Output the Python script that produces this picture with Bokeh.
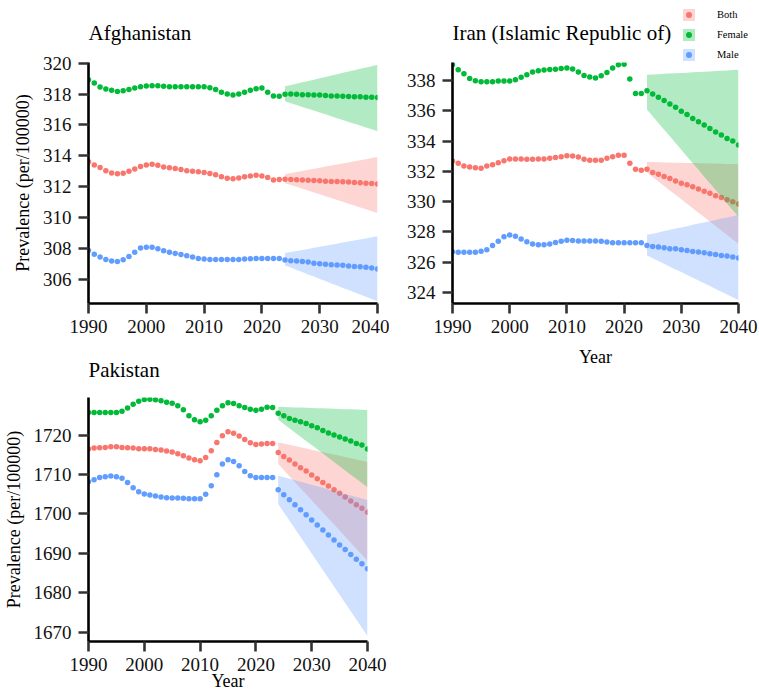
from bokeh.plotting import figure
from bokeh.models import Range1d, FixedTicker, Legend, LegendItem, Label
from bokeh.layouts import row, column
from bokeh.embed import file_html
from bokeh.resources import INLINE

# ---------------- data ----------------
YEARS = list(range(1990, 2041))
FYEARS = list(range(2024, 2041))
XTICKS = [1990, 2000, 2010, 2020, 2030, 2040]
GROUPS = ["Both", "Female", "Male"]
COLORS = {"Both": "#F8766D", "Female": "#00BA38", "Male": "#619CFF"}

AF_both = [313.63, 313.42, 313.25, 313.05, 312.90, 312.84, 312.88, 313.01, 313.16, 313.31,
           313.42, 313.46, 313.40, 313.29, 313.23, 313.18, 313.12, 313.05, 313.01, 312.97,
           312.93, 312.86, 312.78, 312.65, 312.56, 312.52, 312.58, 312.65, 312.71, 312.75,
           312.71, 312.60, 312.45, 312.48, 312.50, 312.48, 312.46, 312.44, 312.43, 312.41,
           312.39, 312.37, 312.35, 312.35, 312.33, 312.31, 312.29, 312.26, 312.24, 312.22, 312.18]
AF_female = [318.93, 318.71, 318.46, 318.33, 318.24, 318.16, 318.22, 318.29, 318.39, 318.48,
             318.52, 318.54, 318.54, 318.50, 318.48, 318.48, 318.48, 318.48, 318.48, 318.48,
             318.48, 318.41, 318.29, 318.11, 318.00, 317.94, 318.00, 318.11, 318.24, 318.35,
             318.39, 318.11, 317.88, 317.86, 317.98, 318.00, 317.98, 317.96, 317.96, 317.94,
             317.94, 317.90, 317.88, 317.88, 317.86, 317.84, 317.82, 317.82, 317.80, 317.80, 317.77]
AF_male = [307.89, 307.65, 307.46, 307.31, 307.20, 307.18, 307.29, 307.50, 307.78, 308.04,
           308.10, 308.10, 308.00, 307.87, 307.78, 307.70, 307.63, 307.55, 307.46, 307.37,
           307.33, 307.31, 307.31, 307.31, 307.31, 307.31, 307.31, 307.33, 307.35, 307.37,
           307.37, 307.37, 307.37, 307.37, 307.27, 307.22, 307.20, 307.18, 307.14, 307.07,
           307.03, 307.00, 306.97, 306.95, 306.93, 306.88, 306.86, 306.84, 306.80, 306.76, 306.69]
AF_both_lo = [312.24, 312.12, 312.00, 311.88, 311.76, 311.64, 311.52, 311.40, 311.28,
              311.15, 311.03, 310.91, 310.79, 310.67, 310.55, 310.43, 310.31]
AF_both_hi = [312.82, 312.89, 312.96, 313.03, 313.10, 313.17, 313.24, 313.31, 313.38,
              313.44, 313.51, 313.58, 313.65, 313.72, 313.79, 313.86, 313.93]
AF_female_lo = [317.53, 317.41, 317.29, 317.17, 317.05, 316.93, 316.81, 316.69, 316.57,
                316.44, 316.32, 316.20, 316.08, 315.96, 315.84, 315.72, 315.60]
AF_female_hi = [318.50, 318.59, 318.67, 318.76, 318.85, 318.93, 319.02, 319.11, 319.20,
                319.28, 319.37, 319.46, 319.54, 319.63, 319.72, 319.80, 319.89]
AF_male_lo = [306.92, 306.78, 306.63, 306.49, 306.34, 306.20, 306.05, 305.91, 305.76,
              305.62, 305.47, 305.33, 305.18, 305.04, 304.89, 304.75, 304.60]
AF_male_hi = [307.72, 307.79, 307.86, 307.92, 307.99, 308.06, 308.13, 308.20, 308.26,
              308.33, 308.40, 308.47, 308.54, 308.60, 308.67, 308.74, 308.81]

IR_both = [332.68, 332.53, 332.35, 332.29, 332.24, 332.20, 332.35, 332.44, 332.57, 332.70,
           332.81, 332.81, 332.81, 332.79, 332.79, 332.81, 332.81, 332.86, 332.92, 332.97,
           333.03, 333.01, 332.95, 332.80, 332.73, 332.73, 332.73, 332.86, 332.97, 333.06,
           333.06, 332.53, 332.14, 332.07, 332.14, 331.92, 331.81, 331.66, 331.53, 331.37,
           331.22, 331.11, 330.98, 330.83, 330.68, 330.55, 330.39, 330.28, 330.13, 329.99, 329.84]
IR_female = [339.03, 338.70, 338.44, 338.13, 337.98, 337.91, 337.91, 337.91, 337.96, 337.96,
             337.96, 338.04, 338.20, 338.37, 338.55, 338.63, 338.68, 338.72, 338.74, 338.79,
             338.81, 338.75, 338.55, 338.33, 338.22, 338.16, 338.31, 338.52, 338.81, 339.03,
             339.07, 338.09, 337.13, 337.13, 337.32, 337.11, 336.88, 336.67, 336.45, 336.23,
             335.97, 335.75, 335.49, 335.27, 335.05, 334.83, 334.59, 334.39, 334.17, 334.00, 333.73]
IR_male = [326.70, 326.66, 326.66, 326.66, 326.66, 326.72, 326.83, 327.10, 327.38, 327.69,
           327.80, 327.71, 327.53, 327.36, 327.20, 327.16, 327.16, 327.20, 327.31, 327.38,
           327.45, 327.44, 327.40, 327.40, 327.40, 327.40, 327.38, 327.33, 327.28, 327.28,
           327.28, 327.28, 327.28, 327.28, 327.11, 327.04, 327.00, 326.96, 326.89, 326.89,
           326.83, 326.78, 326.71, 326.67, 326.63, 326.56, 326.52, 326.45, 326.41, 326.35, 326.28]
IR_both_lo = [331.92, 331.63, 331.33, 331.04, 330.74, 330.45, 330.16, 329.86, 329.57,
              329.27, 328.98, 328.69, 328.39, 328.10, 327.80, 327.51, 327.22]
IR_both_hi = [332.62, 332.61, 332.60, 332.59, 332.58, 332.57, 332.56, 332.55, 332.55,
              332.54, 332.53, 332.52, 332.51, 332.50, 332.49, 332.48, 332.47]
IR_female_lo = [336.08, 335.64, 335.19, 334.75, 334.31, 333.87, 333.42, 332.98, 332.54,
                332.10, 331.65, 331.21, 330.77, 330.33, 329.88, 329.44, 329.00]
IR_female_hi = [338.37, 338.39, 338.41, 338.43, 338.45, 338.47, 338.49, 338.51, 338.53,
                338.55, 338.57, 338.59, 338.62, 338.64, 338.66, 338.68, 338.70]
IR_male_lo = [326.45, 326.27, 326.08, 325.90, 325.71, 325.53, 325.35, 325.16, 324.98,
              324.79, 324.61, 324.43, 324.24, 324.06, 323.87, 323.69, 323.50]
IR_male_hi = [327.81, 327.89, 327.97, 328.06, 328.14, 328.22, 328.30, 328.38, 328.47,
              328.55, 328.63, 328.71, 328.79, 328.88, 328.96, 329.04, 329.12]

PK_both = [1716.45, 1716.70, 1716.79, 1716.87, 1717.04, 1717.04, 1716.87, 1716.79, 1716.70, 1716.54,
           1716.54, 1716.54, 1716.37, 1716.20, 1715.95, 1715.70, 1715.27, 1714.76, 1714.17, 1713.75,
           1713.50, 1714.34, 1716.03, 1718.14, 1719.83, 1720.84, 1720.50, 1719.75, 1718.90, 1718.06,
           1717.64, 1717.72, 1717.89, 1717.89, 1715.60, 1714.60, 1713.67, 1712.65, 1711.72, 1710.88,
           1709.86, 1708.94, 1708.00, 1707.08, 1706.15, 1705.22, 1704.29, 1703.27, 1702.35, 1701.42, 1700.41]
PK_female = [1725.74, 1725.74, 1725.74, 1725.74, 1725.74, 1725.74, 1726.08, 1726.90, 1727.85, 1728.60,
             1729.04, 1729.12, 1728.95, 1728.70, 1728.36, 1728.10, 1727.43, 1726.42, 1724.90, 1723.90,
             1723.38, 1723.80, 1724.90, 1726.33, 1727.43, 1728.19, 1728.02, 1727.43, 1727.00, 1726.59,
             1726.33, 1726.59, 1727.09, 1727.00, 1725.57, 1724.90, 1724.22, 1723.80, 1723.38, 1722.96,
             1722.36, 1721.86, 1721.18, 1720.51, 1720.00, 1719.49, 1718.99, 1718.48, 1717.89, 1717.47, 1716.45]
PK_male = [1708.18, 1708.68, 1709.27, 1709.44, 1709.60, 1709.44, 1709.02, 1708.00, 1706.66, 1705.64,
           1705.05, 1704.80, 1704.54, 1704.29, 1704.12, 1704.04, 1704.04, 1703.95, 1703.86, 1703.86,
           1703.86, 1704.97, 1707.17, 1709.95, 1712.65, 1713.75, 1713.33, 1712.23, 1710.79, 1709.70,
           1709.27, 1709.27, 1709.27, 1709.27, 1706.15, 1704.88, 1703.61, 1702.35, 1701.08, 1699.81,
           1698.46, 1697.20, 1695.93, 1694.66, 1693.40, 1692.13, 1690.95, 1689.68, 1688.50, 1687.31, 1686.05]
PK_both_lo = [1712.65, 1711.12, 1709.58, 1708.05, 1706.51, 1704.98, 1703.45, 1701.91, 1700.38,
              1698.84, 1697.31, 1695.77, 1694.24, 1692.70, 1691.17, 1689.64, 1688.10]
PK_both_hi = [1718.15, 1717.84, 1717.53, 1717.22, 1716.91, 1716.60, 1716.29, 1715.98, 1715.68,
              1715.37, 1715.06, 1714.75, 1714.44, 1714.13, 1713.82, 1713.51, 1713.20]
PK_female_lo = [1723.88, 1722.81, 1721.74, 1720.67, 1719.60, 1718.53, 1717.46, 1716.39, 1715.32,
                1714.24, 1713.17, 1712.10, 1711.03, 1709.96, 1708.89, 1707.82, 1706.75]
PK_female_hi = [1727.17, 1727.12, 1727.07, 1727.03, 1726.98, 1726.93, 1726.88, 1726.83, 1726.79,
                1726.74, 1726.69, 1726.64, 1726.59, 1726.55, 1726.50, 1726.45, 1726.40]
PK_male_lo = [1702.50, 1700.41, 1698.31, 1696.22, 1694.13, 1692.03, 1689.94, 1687.84, 1685.75,
              1683.66, 1681.56, 1679.47, 1677.38, 1675.28, 1673.19, 1671.09, 1669.00]
PK_male_hi = [1709.69, 1709.30, 1708.92, 1708.53, 1708.15, 1707.76, 1707.38, 1706.99, 1706.61,
              1706.22, 1705.84, 1705.45, 1705.07, 1704.68, 1704.30, 1703.91, 1703.53]

AF_YTICKS = [306, 308, 310, 312, 314, 316, 318, 320]
IR_YTICKS = [324, 326, 328, 330, 332, 334, 336, 338]
PK_YTICKS = [1670, 1680, 1690, 1700, 1710, 1720]

TITLES = ["Afghanistan", "Iran (Islamic Republic of)", "Pakistan"]
YLABEL = "Prevalence (per/100000)"
XLABEL = "Year"

# legend proxies (kept outside the header's visible range)
PROXY_X = [-20, -10]
PROXY_LO = [0, 0]
PROXY_HI = [1, 1]

SERIF = "Liberation Serif"


def panel(title, series, bands, yr, yticks, fw, fh, borders, ylabel, xlabel,
          x_std=6, xl_std=7, t_std=25):
    p = figure(frame_width=fw, frame_height=fh,
               x_range=Range1d(1990, 2040), y_range=Range1d(*yr),
               output_backend="svg", toolbar_location=None,
               min_border_left=borders[0], min_border_right=borders[1],
               min_border_top=borders[2], min_border_bottom=borders[3])
    p.background_fill_color = "white"
    p.border_fill_color = "white"
    p.outline_line_color = None
    p.grid.visible = False
    if title:
        p.title.text = title
        p.title.text_font = SERIF
        p.title.text_font_size = "21px"
        p.title.text_font_style = "normal"
        p.title.text_color = "black"
        p.title.standoff = t_std
    else:
        p.title.visible = False
    p.xaxis.ticker = FixedTicker(ticks=XTICKS)
    p.yaxis.ticker = FixedTicker(ticks=yticks)
    for ax in (p.xaxis[0], p.yaxis[0]):
        ax.axis_line_width = 2.6
        ax.axis_line_color = "black"
        ax.major_tick_line_width = 2.6
        ax.major_tick_line_color = "#333333"
        ax.major_tick_in = 0
        ax.major_tick_out = 10
        ax.minor_tick_line_color = None
        ax.major_label_text_font = SERIF
        ax.major_label_text_font_size = "19px"
        ax.major_label_text_color = "#111111"
        ax.axis_label_text_font = SERIF
        ax.axis_label_text_font_size = "18px"
        ax.axis_label_text_font_style = "normal"
        ax.axis_label_text_color = "black"
    p.yaxis.major_label_standoff = 7
    p.xaxis.major_label_standoff = x_std
    if ylabel:
        p.yaxis.axis_label = ylabel
        p.yaxis.axis_label_standoff = 7
    if xlabel:
        p.xaxis.axis_label = xlabel
        p.xaxis.axis_label_standoff = xl_std
    for g in GROUPS:
        p.scatter(YEARS, series[g], size=5.5, fill_color=COLORS[g], line_color=None)
    for g in GROUPS:
        lo, hi = bands[g]
        p.varea(x=FYEARS, y1=lo, y2=hi, fill_color=COLORS[g], fill_alpha=0.3)
    return p


f1 = panel(TITLES[0],
           {"Both": AF_both, "Female": AF_female, "Male": AF_male},
           {"Both": (AF_both_lo, AF_both_hi), "Female": (AF_female_lo, AF_female_hi),
            "Male": (AF_male_lo, AF_male_hi)},
           (304.46, 320.04), AF_YTICKS, 289, 241, (81, 19, 62, 35),
           YLABEL, None, t_std=35)

f2 = panel(None,
           {"Both": IR_both, "Female": IR_female, "Male": IR_male},
           {"Both": (IR_both_lo, IR_both_hi), "Female": (IR_female_lo, IR_female_hi),
            "Male": (IR_male_lo, IR_male_hi)},
           (323.28, 339.18), IR_YTICKS, 286, 241, (56, 20, 0, 62),
           None, XLABEL, x_std=6, xl_std=11)

f3 = panel(TITLES[2],
           {"Both": PK_both, "Female": PK_female, "Male": PK_male},
           {"Both": (PK_both_lo, PK_both_hi), "Female": (PK_female_lo, PK_female_hi),
            "Male": (PK_male_lo, PK_male_hi)},
           (1667.6, 1729.55), PK_YTICKS, 279, 244, (81, 29, 59, 50),
           YLABEL, XLABEL, x_std=6, xl_std=-3, t_std=32)

# header above the Iran panel: its title and the shared legend
hdr = figure(frame_width=306, frame_height=62, x_range=Range1d(0, 306), y_range=Range1d(0, 62),
             x_axis_type=None, y_axis_type=None, output_backend="svg", toolbar_location=None,
             min_border_left=56, min_border_right=0, min_border_top=0, min_border_bottom=0)
hdr.outline_line_color = None
hdr.grid.visible = False
hdr.title.visible = False
hdr.add_layout(Label(x=0, y=18, text=TITLES[1], text_font=SERIF, text_font_size="21px",
                     text_baseline="bottom", text_align="left", text_color="black"))
items = []
for g in GROUPS:
    ra = hdr.varea(x=PROXY_X, y1=PROXY_LO, y2=PROXY_HI, fill_color=COLORS[g], fill_alpha=0.3)
    rs = hdr.scatter(x=PROXY_X, y=PROXY_LO, size=5.5, fill_color=COLORS[g], line_color=None)
    items.append(LegendItem(label=g, renderers=[ra, rs]))
legend = Legend(items=items, location=(229, 0), orientation="vertical",
                glyph_width=15, glyph_height=15, label_height=15, label_width=30,
                spacing=5, padding=0, margin=0, label_standoff=21,
                label_text_font=SERIF, label_text_font_size="10.5px", label_text_color="black",
                border_line_color=None, background_fill_alpha=0)
hdr.add_layout(legend)

layout = row(column(f1, f3), column(hdr, f2))
open("out.html", "w").write(file_html(layout, INLINE))
